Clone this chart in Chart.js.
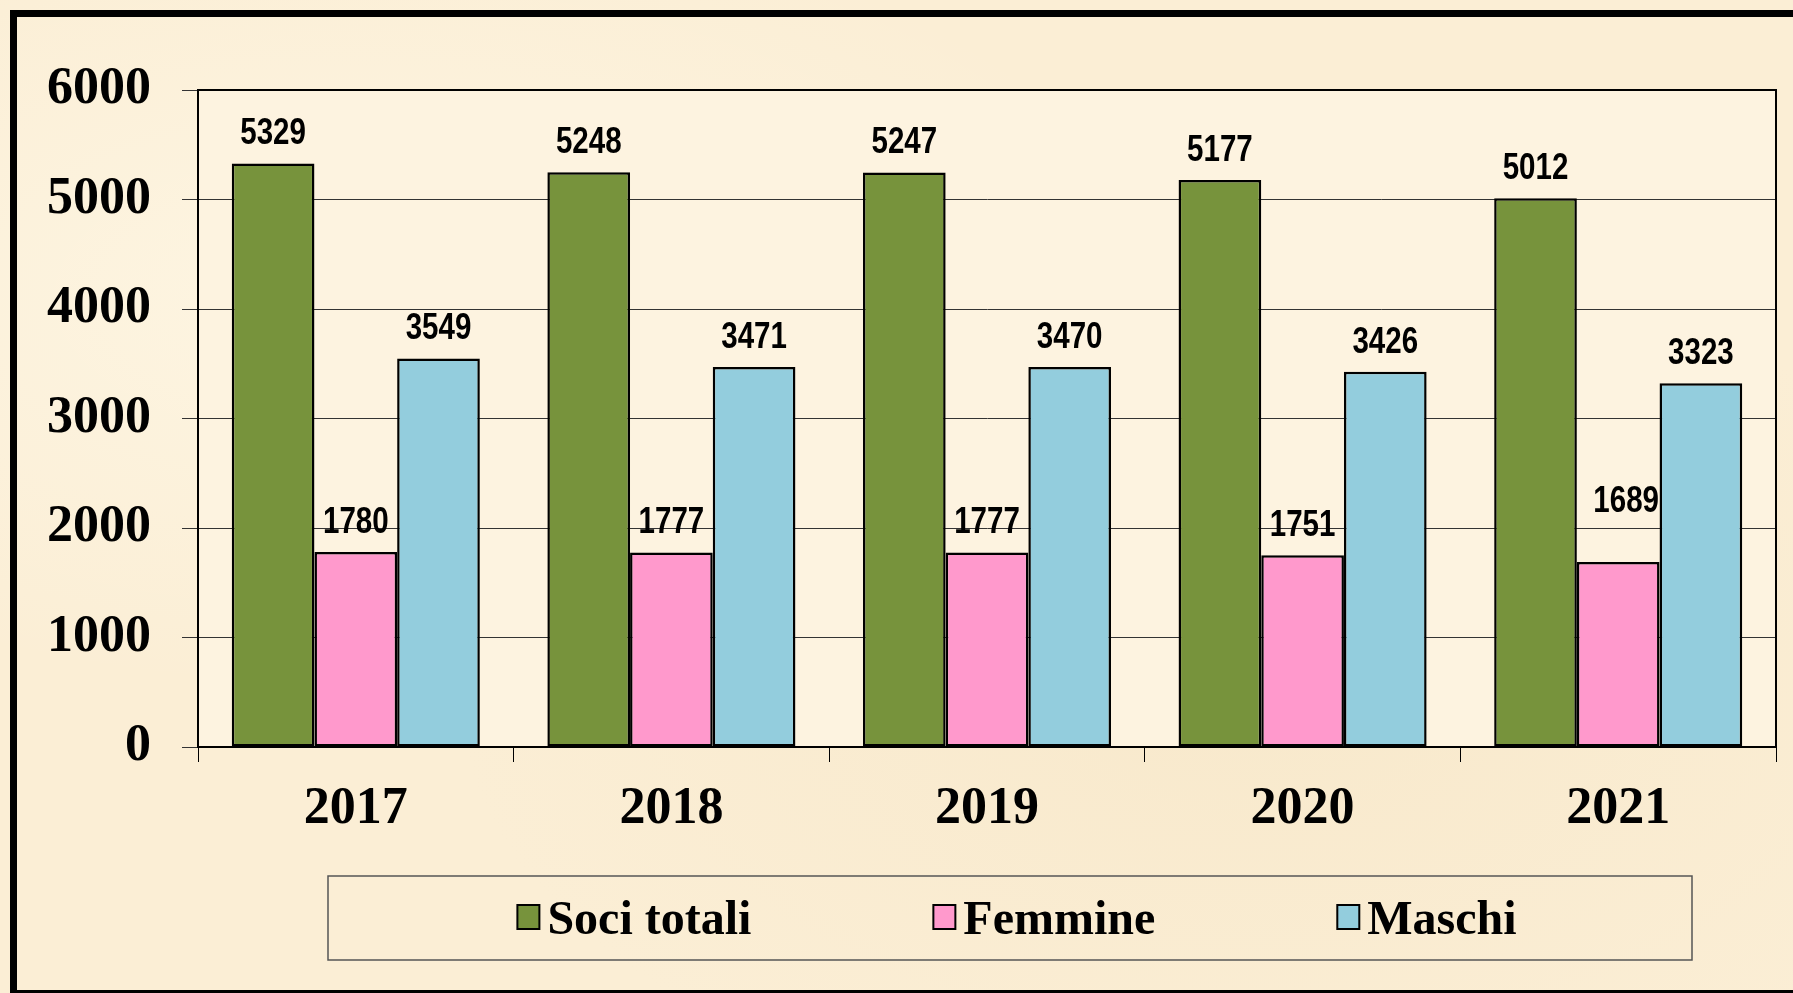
<!DOCTYPE html>
<html>
<head>
<meta charset="utf-8">
<title>Soci 2017-2021</title>
<script src="https://cdn.jsdelivr.net/npm/chart.js@4.4.1/dist/chart.umd.min.js"></script>
<style>
    html, body {
        margin: 0;
        padding: 0;
        width: 1793px;
        height: 993px;
        overflow: hidden;
        background: #fbeed5;
        background-image:
            radial-gradient(ellipse at 20% 30%, rgba(255,250,235,0.6), rgba(255,250,235,0) 40%),
            radial-gradient(ellipse at 70% 70%, rgba(245,228,195,0.5), rgba(245,228,195,0) 45%);
    }
    #frame {
        position: absolute;
        left: 10px;
        top: 10px;
        width: 1800px;
        height: 987px;
        box-sizing: border-box;
        border: 7px solid #000;
    }
    #wrap {
        position: absolute;
        left: 0;
        top: 0;
        width: 1793px;
        height: 993px;
    }
</style>
</head>
<body>
<div id="frame"></div>
<div id="wrap"><canvas id="chart" width="1793" height="993"></canvas></div>
<script>
// Data
const years = ['2017', '2018', '2019', '2020', '2021'];
const sociTotali = [5329, 5248, 5247, 5177, 5012];
const femmine = [1780, 1777, 1777, 1751, 1689];
const maschi = [3549, 3471, 3470, 3426, 3323];
const seriesNames = ['Soci totali', 'Femmine', 'Maschi'];
const seriesColors = ['#77933c', '#ff99cc', '#93cddd'];
const yMax = 6000;
const yStep = 1000;

// Plot area fill + frame
const plotFrame = {
    id: 'plotFrame',
    beforeDraw(chart) {
        const {ctx, chartArea: a} = chart;
        ctx.save();
        ctx.fillStyle = '#fdf3e0';
        ctx.fillRect(a.left, a.top, a.right - a.left, a.bottom - a.top);
        ctx.restore();
    },
    afterDraw(chart) {
        const {ctx, chartArea: a} = chart;
        ctx.save();
        ctx.strokeStyle = '#000';
        ctx.lineWidth = 2;
        ctx.strokeRect(a.left, a.top, a.right - a.left, a.bottom - a.top);
        ctx.restore();
    }
};

// Value labels above bars (narrow bold sans)
const valueLabels = {
    id: 'valueLabels',
    afterDatasetsDraw(chart, args, opts) {
        const ctx = chart.ctx;
        ctx.save();
        ctx.font = 'bold 36px "Liberation Sans", Arial, sans-serif';
        ctx.fillStyle = '#000';
        ctx.textAlign = 'center';
        ctx.textBaseline = 'alphabetic';
        chart.data.datasets.forEach((ds, di) => {
            const meta = chart.getDatasetMeta(di);
            meta.data.forEach((bar, i) => {
                let dx = 0, dy = 0;
                (opts.shifts || []).forEach(s => {
                    if (s.dataset === di && s.index === i) { dx = s.dx; dy = s.dy; }
                });
                const x = bar.x + dx;
                const y = bar.y - 19 + dy;
                ctx.save();
                ctx.translate(x, y);
                ctx.scale(0.82, 1);
                ctx.fillText(String(ds.data[i]), 0, 0);
                ctx.restore();
            });
        });
        ctx.restore();
    }
};

// Boxed legend under the axis
const boxLegend = {
    id: 'boxLegend',
    afterDraw(chart) {
        const ctx = chart.ctx;
        const box = {left: 328, top: 876, right: 1692, bottom: 960};
        ctx.save();
        ctx.strokeStyle = '#555';
        ctx.lineWidth = 1.5;
        ctx.strokeRect(box.left, box.top, box.right - box.left, box.bottom - box.top);

        ctx.font = 'bold 48px "Liberation Serif", "Times New Roman", serif';
        const sq = 22, gap = 8, spacing = 182;
        const items = chart.data.datasets.map(ds => ({
            label: ds.label,
            color: ds.backgroundColor,
            w: sq + gap + ctx.measureText(ds.label).width
        }));
        const total = items.reduce((s, it) => s + it.w, 0) + spacing * (items.length - 1);
        let x = (box.left + box.right) / 2 - total / 2 + 7;
        const cy = 917;
        items.forEach(it => {
            ctx.fillStyle = it.color;
            ctx.fillRect(x, cy - 12, sq, 24);
            ctx.strokeStyle = '#000';
            ctx.lineWidth = 2;
            ctx.strokeRect(x, cy - 12, sq, 24);
            ctx.fillStyle = '#000';
            ctx.textAlign = 'left';
            ctx.textBaseline = 'alphabetic';
            ctx.fillText(it.label, x + sq + gap, cy + 17);
            x += it.w + spacing;
        });
        ctx.restore();
    }
};

const serif = '"Liberation Serif", "Times New Roman", serif';

new Chart(document.getElementById('chart'), {
    type: 'bar',
    data: {
        labels: years,
        datasets: [
            {label: seriesNames[0], data: sociTotali, backgroundColor: seriesColors[0]},
            {label: seriesNames[1], data: femmine, backgroundColor: seriesColors[1]},
            {label: seriesNames[2], data: maschi, backgroundColor: seriesColors[2]}
        ].map(d => Object.assign(d, {
            borderColor: '#000',
            borderWidth: 2.5,
            borderSkipped: false,
            categoryPercentage: 0.786,
            barPercentage: 1
        }))
    },
    options: {
        responsive: false,
        animation: false,
        layout: {padding: {left: 0, top: 90, right: 17, bottom: 0}},
        plugins: {
            legend: {display: false},
            tooltip: {enabled: false},
            valueLabels: {shifts: [{dataset: 1, index: 4, dx: 8, dy: -31}]}
        },
        scales: {
            x: {
                afterFit(scale) { scale.height = 246; },
                grid: {
                    offset: true,
                    drawOnChartArea: false,
                    drawTicks: true,
                    tickLength: 15,
                    color: '#000',
                    lineWidth: 1
                },
                border: {display: true, color: '#000', width: 2},
                ticks: {
                    color: '#000',
                    padding: 16,
                    font: {family: serif, size: 52, weight: 'bold'}
                }
            },
            y: {
                min: 0,
                max: yMax,
                afterFit(scale) { scale.width = 198; },
                grid: {
                    color: '#333',
                    lineWidth: 1,
                    tickLength: 16,
                    drawTicks: true
                },
                border: {display: true, color: '#000', width: 2},
                ticks: {
                    stepSize: yStep,
                    color: '#000',
                    padding: 31,
                    callback: v => String(v),
                    font: {family: serif, size: 52, weight: 'bold'}
                }
            }
        }
    },
    plugins: [plotFrame, valueLabels, boxLegend]
});
</script>
</body>
</html>
